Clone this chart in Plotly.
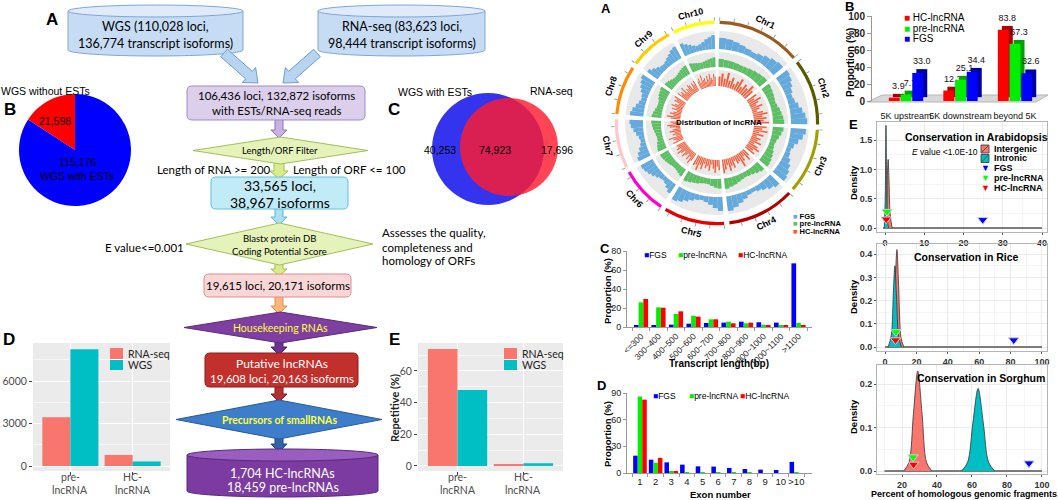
import math
import plotly.graph_objects as go

W, H = 1058, 500
ARIAL = 'Liberation Sans, Arial, sans-serif'
CAL = 'Lato, Carlito, Calibri, sans-serif'

# ------------------------------------------------------------------ data
pie_labels = ['WGS with ESTs', 'WGS without ESTs']
pie_values = [115176, 21598]

venn_sets = ['WGS with ESTs', 'RNA-seq']
venn_counts = ['40,253', '74,923', '17,696']

lnc_categories = ['pre-<br>lncRNA', 'HC-<br>lncRNA']
count_rnaseq = [3450, 780]
count_wgs = [8250, 320]
repet_rnaseq = [73.8, 0.6]
repet_wgs = [48.0, 1.7]

chr_names = ['Chr1', 'Chr2', 'Chr3', 'Chr4', 'Chr5', 'Chr6', 'Chr7', 'Chr8', 'Chr9', 'Chr10']
chr_lengths = [301, 237, 232, 242, 217, 169, 176, 175, 157, 150]
chr_colors = ['#9b5a1e', '#5a5a00', '#a0a000', '#b00000', '#e80000', '#ff00cc',
              '#ffc8c8', '#ff8c00', '#ffcc00', '#ffff00']
fgs_track = [
    [0.62, 0.58, 0.50, 0.42, 0.35, 0.30, 0.38, 0.50, 0.62, 0.70],
    [0.75, 0.68, 0.55, 0.42, 0.32, 0.38, 0.52, 0.68, 0.82, 0.90],
    [0.85, 0.72, 0.52, 0.35, 0.25, 0.30, 0.45, 0.60, 0.72, 0.80],
    [0.72, 0.58, 0.42, 0.30, 0.22, 0.25, 0.38, 0.52, 0.68, 0.82],
    [0.78, 0.62, 0.45, 0.32, 0.25, 0.30, 0.42, 0.55, 0.70, 0.80],
    [0.60, 0.45, 0.32, 0.25, 0.30, 0.40, 0.52, 0.62, 0.70, 0.75],
    [0.72, 0.60, 0.45, 0.32, 0.25, 0.30, 0.42, 0.55, 0.68, 0.75],
    [0.75, 0.65, 0.50, 0.38, 0.30, 0.35, 0.48, 0.60, 0.70, 0.80],
    [0.70, 0.55, 0.42, 0.32, 0.30, 0.35, 0.45, 0.55, 0.68, 0.75],
    [0.72, 0.60, 0.48, 0.38, 0.32, 0.36, 0.45, 0.58, 0.68, 0.78],
]
pre_track = [
    [0.55, 0.50, 0.48, 0.45, 0.42, 0.45, 0.50, 0.55, 0.60, 0.65],
    [0.60, 0.55, 0.50, 0.45, 0.40, 0.45, 0.55, 0.62, 0.70, 0.75],
    [0.72, 0.62, 0.50, 0.40, 0.35, 0.40, 0.50, 0.58, 0.65, 0.70],
    [0.65, 0.55, 0.45, 0.38, 0.35, 0.38, 0.45, 0.55, 0.62, 0.70],
    [0.65, 0.58, 0.48, 0.40, 0.38, 0.42, 0.50, 0.55, 0.62, 0.68],
    [0.55, 0.48, 0.42, 0.38, 0.40, 0.45, 0.50, 0.55, 0.60, 0.62],
    [0.62, 0.55, 0.48, 0.40, 0.38, 0.42, 0.48, 0.55, 0.60, 0.65],
    [0.65, 0.58, 0.50, 0.42, 0.40, 0.42, 0.50, 0.58, 0.62, 0.68],
    [0.60, 0.55, 0.48, 0.42, 0.40, 0.42, 0.48, 0.55, 0.60, 0.65],
    [0.62, 0.55, 0.50, 0.45, 0.42, 0.45, 0.50, 0.55, 0.60, 0.65],
]
hc_track = [
    [0.60, 0.80, 0.50, 0.90, 0.45, 0.70, 0.35, 0.60, 0.85, 0.40, 0.70, 0.55, 0.90, 0.65],
    [0.70, 0.45, 0.85, 0.60, 0.40, 0.75, 0.50, 0.30, 0.65, 0.90, 0.55, 0.80, 0.60, 0.95],
    [0.80, 0.55, 0.90, 0.40, 0.70, 0.30, 0.60, 0.45, 0.75, 0.35, 0.65, 0.85, 0.50, 0.70],
    [0.50, 0.75, 0.35, 0.60, 0.90, 0.45, 0.55, 0.30, 0.70, 0.50, 0.80, 0.40, 0.65, 0.85],
    [0.65, 0.40, 0.80, 0.55, 0.30, 0.70, 0.45, 0.60, 0.35, 0.75, 0.50, 0.90, 0.60, 0.70],
    [0.55, 0.80, 0.40, 0.65, 0.30, 0.50, 0.70, 0.35, 0.60, 0.80, 0.45, 0.70, 0.55, 0.60],
    [0.70, 0.45, 0.60, 0.85, 0.35, 0.55, 0.40, 0.70, 0.50, 0.30, 0.65, 0.80, 0.45, 0.60],
    [0.60, 0.85, 0.45, 0.70, 0.50, 0.30, 0.65, 0.40, 0.75, 0.55, 0.35, 0.70, 0.60, 0.80],
    [0.75, 0.50, 0.65, 0.40, 0.80, 0.35, 0.55, 0.45, 0.70, 0.60, 0.30, 0.65, 0.50, 0.70],
    [0.55, 0.70, 0.40, 0.85, 0.50, 0.60, 0.35, 0.70, 0.45, 0.80, 0.55, 0.40, 0.75, 0.60],
]

loc_categories = ['5K upstream', '5K downstream', 'beyond 5K']
loc_hc = [3.9, 12.3, 83.8]
loc_pre = [7.7, 25.1, 67.3]
loc_fgs = [33.0, 34.4, 32.6]

len_categories = ['<=300', '300~400', '400~500', '500~600', '600~700', '700~800',
                  '800~900', '900~1000', '1000~1100', '>1100']
len_fgs = [1.4, 1.9, 2.5, 3.5, 4.2, 4.6, 5.6, 5.0, 4.6, 67.0]
len_pre = [26.0, 20.7, 13.7, 11.9, 8.1, 5.6, 3.9, 2.3, 1.9, 4.2]
len_hc = [29.5, 20.3, 16.5, 10.9, 8.1, 3.9, 4.6, 1.3, 1.3, 1.8]

exon_categories = ['1', '2', '3', '4', '5', '6', '7', '8', '9', '10', '>10']
exon_fgs = [19.5, 15.0, 12.0, 9.4, 7.5, 7.2, 5.7, 4.5, 3.8, 3.4, 12.5]
exon_pre = [86.0, 11.5, 2.0, 0.3, 0.2, 0.1, 0.1, 0.1, 0.0, 0.0, 0.2]
exon_hc = [82.5, 17.0, 1.5, 0.0, 0.0, 0.0, 0.0, 0.0, 0.0, 0.0, 0.0]

dens_groups = ['Intergenic', 'Intronic']
arab_span = [-0.5, 40]
arab_inter_x = [0.1, 0.4, 0.6, 0.8, 1.0, 1.3, 1.8]
arab_inter_y = [0, 0.3, 0.9, 1.17, 0.85, 0.25, 0]
arab_intron_x = [-0.2, 0.05, 0.25, 0.45, 0.7, 1.0]
arab_intron_y = [0, 0.5, 1.75, 0.6, 0.08, 0]
arab_tri_x = [24.9, 0.5, 0.3]
arab_tri_y = [0.14, 0.28, 0.15]

rice_span = [0, 100]
rice_inter_x = [3.0, 5.0, 6.5, 7.6, 8.7, 10.2, 12.0]
rice_inter_y = [0, 0.05, 0.28, 0.42, 0.26, 0.04, 0]
rice_intron_x = [2.0, 4.0, 5.4, 6.3, 7.3, 8.8, 10.5]
rice_intron_y = [0, 0.05, 0.25, 0.35, 0.22, 0.04, 0]
rice_tri_x = [82, 7.0, 6.7]
rice_tri_y = [0.03, 0.065, 0.03]

sorg_span = [10, 100]
sorg_inter_x = [21, 24, 26.5, 29, 31.5, 34, 37]
sorg_inter_y = [0, 0.02, 0.13, 0.23, 0.13, 0.02, 0]
sorg_intron_x = [54, 57.5, 60.5, 63.5, 66.5, 69.5, 73]
sorg_intron_y = [0, 0.02, 0.11, 0.19, 0.11, 0.02, 0]
sorg_tri_x = [92.6, 26.3, 26.6]
sorg_tri_y = [0.018, 0.032, 0.015]

tri_names = ['FGS', 'pre-lncRNA', 'HC-lncRNA']
tri_colors = ['#0000ff', '#00ff00', '#ff0000']


# ------------------------------------------------------------------ helpers
def fx(p):
    return p / W


def fy(p):
    return 1 - p / H


def pt(x, y):
    return f'{fx(x):.5f},{fy(y):.5f}'


shapes = []
annotations = []


def ann(text, x, y, size=11, color='#000', family=ARIAL, bold=False,
        xanchor='center', angle=0, yanchor='middle', xref='paper'):
    annotations.append(dict(text=f'<b>{text}</b>' if bold else text,
                            x=fx(x) if xref == 'paper' else x, y=fy(y),
                            xref=xref, yref='paper', showarrow=False,
                            font=dict(size=size, color=color, family=family),
                            xanchor=xanchor, yanchor=yanchor, textangle=angle))


def add_path(d, fill, line, lw=1, layer='above'):
    shapes.append(dict(type='path', path=d, xref='paper', yref='paper', fillcolor=fill,
                       line=dict(color=line, width=lw), layer=layer))


def poly(points, fill, line, lw=1, layer='above'):
    add_path('M ' + ' L '.join(pt(x, y) for x, y in points) + ' Z', fill, line, lw, layer)


def rrect(x0, y0, x1, y1, r, fill, line, lw=1):
    d = (f'M {pt(x0 + r, y0)} L {pt(x1 - r, y0)} Q {pt(x1, y0)} {pt(x1, y0 + r)} '
         f'L {pt(x1, y1 - r)} Q {pt(x1, y1)} {pt(x1 - r, y1)} L {pt(x0 + r, y1)} '
         f'Q {pt(x0, y1)} {pt(x0, y1 - r)} L {pt(x0, y0 + r)} Q {pt(x0, y0)} {pt(x0 + r, y0)} Z')
    add_path(d, fill, line, lw)


def ellipse(x0, y0, x1, y1, fill, line, lw=1):
    shapes.append(dict(type='circle', xref='paper', yref='paper', x0=fx(x0), x1=fx(x1),
                       y0=fy(y1), y1=fy(y0), fillcolor=fill,
                       line=dict(color=line, width=lw)))


def cylinder(x0, x1, yt, yb, ry, fill, top, line):
    cx = (x0 + x1) / 2
    rx = (x1 - x0) / 2
    k = 0.5523
    d = (f'M {pt(x0, yt)} L {pt(x0, yb)} C {pt(x0, yb + k * ry)} {pt(cx - k * rx, yb + ry)} '
         f'{pt(cx, yb + ry)} C {pt(cx + k * rx, yb + ry)} {pt(x1, yb + k * ry)} {pt(x1, yb)} '
         f'L {pt(x1, yt)} Z')
    add_path(d, fill, line)
    ellipse(x0, yt - ry, x1, yt + ry, top, line)


def arrow(x1, y1, x2, y2, sw, hw, hl, fill, line):
    L = math.hypot(x2 - x1, y2 - y1)
    dx, dy = (x2 - x1) / L, (y2 - y1) / L
    nx, ny = -dy, dx
    bx, by = x2 - dx * hl, y2 - dy * hl
    pts = [(x1 + nx * sw, y1 + ny * sw), (bx + nx * sw, by + ny * sw), (bx + nx * hw, by + ny * hw),
           (x2, y2), (bx - nx * hw, by - ny * hw), (bx - nx * sw, by - ny * sw),
           (x1 - nx * sw, y1 - ny * sw)]
    poly(pts, fill, line)


def diamond(x0, x1, y0, y1, fill, line):
    cx, cy = (x0 + x1) / 2, (y0 + y1) / 2
    poly([(x0, cy), (cx, y0), (x1, cy), (cx, y1)], fill, line)


fig = go.Figure()
NOHOVER = dict(hoverinfo='skip', showlegend=False)

# ------------------------------------------------------------------ left: flowchart (A)
CX = 279
ann('A', 52, 19, size=17, bold=True)
cylinder(68, 243, 11, 50, 6, '#c6dcf4', '#dfeafa', '#7fa6d4')
cylinder(318, 485, 11, 50, 6, '#c6dcf4', '#dfeafa', '#7fa6d4')
ann('WGS (110,028 loci,', 155.5, 26, size=12.5, family=CAL)
ann('136,774 transcript isoforms)', 155.5, 44, size=12.5, family=CAL)
ann('RNA-seq (83,623 loci,', 401.5, 26, size=12.5, family=CAL)
ann('98,444 transcript isoforms)', 401.5, 44, size=12.5, family=CAL)
arrow(224, 53, 258, 83, 5, 10, 12, '#b7d4f0', '#6e9ccf')
arrow(317, 53, 283, 83, 5, 10, 12, '#b7d4f0', '#6e9ccf')

arrow(CX, 119, CX, 138, 4, 8, 8, '#c7b2e2', '#8f70bd')
arrow(CX, 162, CX, 179, 5, 9, 8, '#d9ec8a', '#a3bf57')
arrow(CX, 208, CX, 225, 4, 8, 8, '#a9dff0', '#5ab8d8')
arrow(CX, 262, CX, 276, 4, 8, 7, '#d9ec8a', '#a3bf57')
arrow(CX, 296, CX, 314, 4, 8, 8, '#f9b77e', '#e58d40')
arrow(CX, 338, CX, 355, 4, 8, 8, '#6b3290', '#4e2270')
arrow(CX, 385, CX, 402, 4, 8, 8, '#b33030', '#7e1c1c')
arrow(CX, 436, CX, 452, 4, 8, 8, '#2f63aa', '#1f4680')

rrect(187, 86, 365, 120, 5, '#dccfeb', '#9f8cc6')
ann('106,436 loci, 132,872 isoforms', 276, 96, size=11.5, family=CAL)
ann('with ESTs/RNA-seq reads', 276, 111, size=11.5, family=CAL)

diamond(193, 368, 137, 164, '#e5f2ba', '#a3bf57')
ann('Length/ORF Filter', 280, 150.5, size=9.5, family=CAL)
ann('Length of RNA >= 200', 273, 169, size=11.5, family=CAL, xanchor='right')
ann('Length of ORF <= 100', 291, 169, size=11.5, family=CAL, xanchor='left')

rrect(211, 177, 348, 209, 5, '#c2ebf8', '#5ec2de')
ann('33,565 loci,', 279.5, 185.5, size=14, family=CAL)
ann('38,967 isoforms', 279.5, 202, size=14, family=CAL)

diamond(186, 373, 223, 265, '#e5f2ba', '#a3bf57')
ann('Blastx protein DB', 279.5, 238, size=9.5, family=CAL)
ann('Coding Potential Score', 279.5, 251, size=9.5, family=CAL)
ann('E value<=0.001', 186, 247, size=11.5, family=CAL, xanchor='right')
ann('Assesses the quality,', 380, 233, size=11.5, family=CAL, xanchor='left')
ann('completeness and', 380, 247, size=11.5, family=CAL, xanchor='left')
ann('homology of ORFs', 380, 260.5, size=11.5, family=CAL, xanchor='left')

rrect(204, 274, 351, 297, 5, '#fad7d7', '#df8c8c')
ann('19,615 loci, 20,171 isoforms', 277.5, 285.5, size=11.5, family=CAL)

diamond(184, 377, 312, 343, '#7e3fa0', '#5a2a7a')
ann('Housekeeping RNAs', 280.5, 327.5, size=10.5, family=CAL, color='#ffff3a')

rrect(205, 353, 358, 387, 5, '#c2302c', '#8c1c1c')
ann('Putative lncRNAs', 281.5, 363.5, size=12, family=CAL, color='white')
ann('19,608 loci, 20,163 isoforms', 281.5, 378, size=11.5, family=CAL, color='white')

diamond(176, 382, 400, 439, '#3e7dca', '#2a5a9a')
ann('Precursors of smallRNAs', 279, 420, size=10.5, family=CAL, color='#ffff3a', bold=True)

cylinder(187, 378, 455, 491, 6, '#7b3ba0', '#9a5ec0', '#5a2a7a')
ann('1,704 HC-lncRNAs', 282.5, 473, size=12.5, family=CAL, color='white')
ann('18,459 pre-lncRNAs', 282.5, 487, size=12.5, family=CAL, color='white')

# ------------------------------------------------------------------ left: pie (B)
fig.add_trace(go.Pie(labels=pie_labels, values=pie_values, sort=False, direction='clockwise', rotation=0,
                     marker=dict(colors=['#0000ff', '#ff0000'], line=dict(width=0)),
                     textinfo='none', domain=dict(x=[fx(19), fx(131)], y=[fy(206), fy(94)]),
                     hoverinfo='skip', showlegend=False))
ann('WGS without ESTs', 45, 91, size=10.5)
ann('B', 10, 110, size=17, bold=True)
ann(f'{pie_values[1]:,}', 55, 121, size=10.5)
ann(f'{pie_values[0]:,}', 77, 162, size=10.5)
ann('WGS with ESTs', 77, 176, size=10.5)

# ------------------------------------------------------------------ left: venn (C)
ellipse(432, 93, 544, 205, '#3434ee', 'rgba(0,0,0,0)', 0)
ellipse(460, 98, 558, 196, 'rgba(255,28,48,0.82)', 'rgba(0,0,0,0)', 0)
ann('C', 394, 110, size=17, bold=True)
ann(venn_sets[0], 435, 92, size=10.5)
ann(venn_sets[1], 551, 91, size=10.5)
ann(venn_counts[0], 440, 150, size=10.5)
ann(venn_counts[1], 495, 150, size=10.5)
ann(venn_counts[2], 557, 150, size=10.5)

# ------------------------------------------------------------------ left: ggplot bars (D, E)
GG_RED, GG_TEAL = '#f8766d', '#00bfc4'
for ax, vals_a, vals_b in (('', count_rnaseq, count_wgs), ('2', repet_rnaseq, repet_wgs)):
    xs = [i + 1 for i in range(len(lnc_categories))]
    fig.add_trace(go.Bar(x=[v - 0.225 for v in xs], y=vals_a, width=0.45, marker_color=GG_RED,
                         marker_line_width=0, xaxis='x' + ax, yaxis='y' + ax, **NOHOVER))
    fig.add_trace(go.Bar(x=[v + 0.225 for v in xs], y=vals_b, width=0.45, marker_color=GG_TEAL,
                         marker_line_width=0, xaxis='x' + ax, yaxis='y' + ax, **NOHOVER))
    shapes.append(dict(type='rect', xref=f'x{ax} domain', yref=f'y{ax} domain', x0=0, x1=1, y0=0, y1=1,
                       fillcolor='#ebebeb', line=dict(width=0), layer='below'))
    for i, lab in enumerate(lnc_categories):
        top, bot = lab.split('<br>')
        ann(top, i + 1, 477, size=10.5, family=CAL, color='#4d4d4d', xref='x' + ax)
        ann(bot, i + 1, 489.5, size=10.5, family=CAL, color='#4d4d4d', xref='x' + ax)

ann('D', 9, 339, size=17, bold=True)
ann('E', 394, 339, size=17, bold=True)
ann('Repetitive (%)', 394, 408, size=11, family=CAL, color='#222', bold=True, angle=-90)
for lx in (110, 504):
    shapes.append(dict(type='rect', xref='paper', yref='paper', x0=fx(lx), x1=fx(lx + 13),
                       y0=fy(359), y1=fy(348), fillcolor=GG_RED, line=dict(width=0)))
    shapes.append(dict(type='rect', xref='paper', yref='paper', x0=fx(lx), x1=fx(lx + 13),
                       y0=fy(370), y1=fy(360), fillcolor=GG_TEAL, line=dict(width=0)))
    ann('RNA-seq', lx + 16, 353.5, size=10.5, family=CAL, xanchor='left', color='#222')
    ann('WGS', lx + 16, 365, size=10.5, family=CAL, xanchor='left', color='#222')

# ------------------------------------------------------------------ right: circos (A)
CCX, CCY, CR = 717, 123, 108
gap = 3.0
start = 1.5
deg_per = (360 - gap * len(chr_lengths)) / sum(chr_lengths)
chr_a0, chr_span = [], []
a = start
for L in chr_lengths:
    chr_a0.append(a)
    chr_span.append(L * deg_per)
    a += L * deg_per + gap
chr_mid = [a0 + s / 2 for a0, s in zip(chr_a0, chr_span)]

bands = [(37, 16, hc_track, '#f4603c', 0.72), (56, 15, pre_track, '#5cbf63', 1.0),
         (74, 18, fgs_track, '#65aadc', 1.0)]
for base, span, _, _, _ in bands:
    fig.add_trace(go.Barpolar(theta=chr_mid, r=[span] * len(chr_mid), base=[base] * len(chr_mid),
                              width=chr_span, marker=dict(color='#e9e9e9', line=dict(width=0)),
                              subplot='polar', **NOHOVER))
for base, span, track, color, frac in bands:
    th, rr, ww = [], [], []
    for a0, s, vals in zip(chr_a0, chr_span, track):
        slot = s / len(vals)
        for k, v in enumerate(vals):
            th.append(a0 + (k + 0.5) * slot)
            rr.append(v * span)
            ww.append(slot * frac)
    fig.add_trace(go.Barpolar(theta=th, r=rr, base=[base] * len(th), width=ww,
                              marker=dict(color=color, line=dict(width=0)), subplot='polar', **NOHOVER))
fig.add_trace(go.Barpolar(theta=chr_mid, r=[3.2] * len(chr_mid), base=[99] * len(chr_mid), width=chr_span,
                          marker=dict(color=chr_colors, line=dict(width=0)), subplot='polar', **NOHOVER))
tick_th = []
for a0, L in zip(chr_a0, chr_lengths):
    for mb in range(0, L + 1, 50):
        tick_th.append(a0 + mb * deg_per)
fig.add_trace(go.Barpolar(theta=tick_th, r=[3.5] * len(tick_th), base=[102.3] * len(tick_th),
                          width=[0.5] * len(tick_th), marker=dict(color='#9a9a9a', line=dict(width=0)),
                          subplot='polar', **NOHOVER))
for name, m in zip(chr_names, chr_mid):
    rad = math.radians(m)
    lx = CCX + 112 * math.sin(rad)
    ly = CCY - 112 * math.cos(rad)
    ang = m - 180 if 90 < m < 270 else (m - 360 if m >= 270 else m)
    ann(name, lx, ly, size=9, bold=True, angle=ang)
ann('Distribution of lncRNA', 719, 122, size=8, bold=True)
ann('A', 606, 8, size=13, bold=True)
for i, (nm, col) in enumerate(zip(['FGS', 'pre-lncRNA', 'HC-lncRNA'], ['#65aadc', '#5cbf63', '#f4603c'])):
    ann(f'<span style="color:{col}">■</span> {nm}', 791, 216.5 + i * 7.5, size=7.5, bold=True,
        xanchor='left')

# ------------------------------------------------------------------ right: 3D bars (B)
loc_series = [(loc_hc, '#ff0000', '#a80000', -0.215), (loc_pre, '#00ee00', '#00a000', 0.0),
              (loc_fgs, '#0000ff', '#0000a0', 0.215)]
xs = list(range(len(loc_categories)))
floor = [(868, 102), (1036, 102), (1048, 95), (882, 95)]
poly(floor, '#d8d8d8', '#b5b5b5', 1, layer='below')
for vals, col, dark, off in loc_series:
    fig.add_trace(go.Bar(x=[i + off + 0.075 for i in xs], y=vals, base=[4.5] * len(vals), width=0.2,
                         marker=dict(color=dark, line=dict(width=0)), xaxis='x3', yaxis='y3',
                         text=[f'{v:.1f}' for v in vals], textposition='outside', constraintext='none',
                         textfont=dict(family=ARIAL, size=9, color='#111'), cliponaxis=False, **NOHOVER))
for vals, col, dark, off in loc_series:
    fig.add_trace(go.Bar(x=[i + off for i in xs], y=vals, width=0.2,
                         marker=dict(color=col, line=dict(width=0)), xaxis='x3', yaxis='y3', **NOHOVER))
ann('B', 849, 6, size=13, bold=True)
ann('Proportion (%)', 850, 63, size=10, bold=True, angle=-90)
for i, (nm, col) in enumerate(zip(['HC-lncRNA', 'pre-lncRNA', 'FGS'], ['#ff0000', '#00ee00', '#0000ff'])):
    ann(f'<span style="color:{col}">■</span> {nm}', 902, 17 + i * 11, size=10, xanchor='left')

# ------------------------------------------------------------------ right: transcript length (C)
for vals, col, off in ((len_fgs, '#0000ff', -0.27), (len_pre, '#00ee00', 0.0), (len_hc, '#ff0000', 0.27)):
    fig.add_trace(go.Bar(x=[i + off for i in range(len(len_categories))], y=vals, width=0.27,
                         marker=dict(color=col, line=dict(width=0)), xaxis='x4', yaxis='y4', **NOHOVER))
ann('C', 605, 248, size=13, bold=True)
ann('Proportion (%)', 607, 291, size=9.5, bold=True, angle=-90)
ann('Transcript length(bp)', 719, 363, size=10, bold=True)
for x0, nm, col in ((642, 'FGS', '#0000ff'), (676, 'pre-lncRNA', '#00ee00'), (736, 'HC-lncRNA', '#ff0000')):
    ann(f'<span style="color:{col}">■</span>{nm}', x0, 255, size=8.5, xanchor='left')

# ------------------------------------------------------------------ right: exon number (D)
for vals, col, off in ((exon_fgs, '#0000ff', -0.29), (exon_pre, '#00ee00', 0.0), (exon_hc, '#ff0000', 0.29)):
    fig.add_trace(go.Bar(x=[i + off for i in range(len(exon_categories))], y=vals, width=0.29,
                         marker=dict(color=col, line=dict(width=0)), xaxis='x5', yaxis='y5', **NOHOVER))
ann('D', 601, 385, size=13, bold=True)
ann('Proportion (%)', 607, 434, size=9.5, bold=True, angle=-90)
ann('Exon number', 720, 494, size=9.5, bold=True)
for x0, nm, col in ((651, 'FGS', '#0000ff'), (687, 'pre-lncRNA', '#00ee00'), (738, 'HC-lncRNA', '#ff0000')):
    ann(f'<span style="color:{col}">■</span>{nm}', x0, 396, size=8.5, xanchor='left')

# ------------------------------------------------------------------ right: density panels (E)
panels = [
    ('6', arab_span, arab_inter_x, arab_inter_y, arab_intron_x, arab_intron_y, arab_tri_x, arab_tri_y),
    ('7', rice_span, rice_inter_x, rice_inter_y, rice_intron_x, rice_intron_y, rice_tri_x, rice_tri_y),
    ('8', sorg_span, sorg_inter_x, sorg_inter_y, sorg_intron_x, sorg_intron_y, sorg_tri_x, sorg_tri_y),
]
for ax, span, ix, iy, nx_, ny_, tx, ty in panels:
    fig.add_trace(go.Scatter(x=span, y=[0, 0], mode='lines', line=dict(color='#555', width=1.4),
                             xaxis='x' + ax, yaxis='y' + ax, **NOHOVER))
    for px_, py_, col in ((ix, iy, '#f8766d'), (nx_, ny_, '#00bfc4')):
        fig.add_trace(go.Scatter(x=px_, y=py_, mode='lines', fill='toself', fillcolor=col,
                                 line=dict(color='#333', width=0.8, shape='spline', smoothing=0.9),
                                 xaxis='x' + ax, yaxis='y' + ax, **NOHOVER))
    fig.add_trace(go.Scatter(x=tx, y=ty, mode='markers',
                             marker=dict(symbol='triangle-down', size=9, color=tri_colors,
                                         line=dict(color='#d0d0d0', width=1)),
                             xaxis='x' + ax, yaxis='y' + ax, cliponaxis=False, **NOHOVER))
ann('E', 853, 124, size=13, bold=True)
ann('Conservation in Arabidopsis', 976, 137, size=10.5, bold=True)
ann('<i>E</i> value <1.0E-10', 910, 152, size=8.5, xanchor='left')
ann('Conservation in Rice', 966, 257, size=10.5, bold=True)
ann('Conservation in Sorghum', 981, 378, size=10.5, bold=True)
for yy in (183, 297, 417):
    ann('Density', 853, yy, size=9.5, bold=True, angle=-90)
ann('Percent of homologous genomic fragments', 964, 494, size=9, bold=True)
for yy, col in ((149, '#f8766d'), (158.5, '#00bfc4')):
    shapes.append(dict(type='rect', xref='paper', yref='paper', x0=fx(981), x1=fx(989),
                       y0=fy(yy + 4), y1=fy(yy - 4), fillcolor=col, line=dict(color='#333', width=0.8)))
    shapes.append(dict(type='line', xref='paper', yref='paper', x0=fx(982), x1=fx(988),
                       y0=fy(yy + 3), y1=fy(yy - 3), line=dict(color='#333', width=0.8)))
ann('Intergenic', 992, 149, size=9, bold=True, xanchor='left')
ann('Intronic', 992, 158.5, size=9, bold=True, xanchor='left')
for i, (nm, col) in enumerate(zip(tri_names, tri_colors)):
    ann(f'<span style="color:{col}">▼</span>', 985, 168 + i * 10, size=9)
    ann(nm, 992, 168 + i * 10, size=9, bold=True, xanchor='left')

# ------------------------------------------------------------------ axes
GGTICK = dict(family=CAL, size=10.5, color='#4d4d4d')
gg_x = dict(range=[0.4, 2.6], tickvals=[1, 2], showticklabels=False, showgrid=True, gridcolor='white',
            gridwidth=1, zeroline=False, ticks='outside', ticklen=3, tickcolor='#444',
            showline=False, automargin=False)
gg_y = dict(showgrid=True, gridcolor='white', gridwidth=1, zeroline=False, ticks='outside', ticklen=3,
            tickcolor='#444', tickfont=GGTICK, showline=False, automargin=False)

RT = dict(family=ARIAL, size=9, color='#222')
RTB = dict(family=ARIAL, size=9, color='#333', weight='bold')
dens_x = dict(showgrid=True, gridcolor='#ebebeb', zeroline=False, showline=True, mirror=True,
              linecolor='#b5b5b5', ticks='outside', ticklen=2, tickcolor='#555', tickfont=RTB,
              automargin=False)
dens_y = dict(dens_x, tickformat='.1f')

fig.update_layout(
    width=W, height=H, margin=dict(l=0, r=0, t=0, b=0, autoexpand=False), paper_bgcolor='white',
    plot_bgcolor='white', barmode='overlay', showlegend=False,
    xaxis=dict(gg_x, domain=[fx(33), fx(170)], anchor='y'),
    yaxis=dict(gg_y, domain=[fy(471), fy(343)], range=[-353, 8683], tickvals=[0, 3000, 6000],
               minor=dict(tickvals=[1500, 4500, 7500], showgrid=True, gridcolor='#f6f6f6', gridwidth=0.6),
               anchor='x'),
    xaxis2=dict(gg_x, domain=[fx(418), fx(563)], anchor='y2'),
    yaxis2=dict(gg_y, domain=[fy(471), fy(343)], range=[-3.2, 77.6], tickvals=[0, 20, 40, 60],
                minor=dict(tickvals=[10, 30, 50, 70], showgrid=True, gridcolor='#f6f6f6', gridwidth=0.6),
                anchor='x2'),
    xaxis3=dict(domain=[fx(872), fx(1048)], range=[-0.624, 2.606], tickvals=list(range(3)),
                ticktext=loc_categories, tickangle=0, showgrid=False, zeroline=False, showline=False,
                ticks='', tickfont=dict(family=ARIAL, size=9, color='#111'), ticklabelstandoff=8,
                automargin=False, anchor='y3'),
    yaxis3=dict(domain=[fy(101), fy(16)], range=[0, 100], dtick=20, showgrid=False, zeroline=False,
                showline=True, linecolor='#999', ticks='outside', ticklen=4, tickcolor='#999',
                tickfont=dict(family=ARIAL, size=10, color='#222', weight='bold'), automargin=False,
                anchor='x3'),
    xaxis4=dict(domain=[fx(627), fx(812)], range=[-0.8, 9.77], tickvals=list(range(10)),
                ticktext=len_categories, tickangle=-45, showgrid=False, zeroline=False, showline=True,
                linecolor='#999', ticks='', tickfont=dict(family=ARIAL, size=8.5, color='#222'),
                minor=dict(tickvals=[i - 0.5 for i in range(11)], ticks='outside', ticklen=3,
                           tickcolor='#999'), automargin=False, anchor='y4'),
    yaxis4=dict(domain=[fy(327), fy(251)], range=[0, 80], dtick=20, showgrid=False, zeroline=False,
                showline=True, linecolor='#999', ticks='outside', ticklen=3, tickcolor='#999', tickfont=RT,
                automargin=False, anchor='x4'),
    xaxis5=dict(domain=[fx(627), fx(812)], range=[-0.83, 11.0], tickvals=list(range(11)),
                ticktext=exon_categories, tickangle=0, showgrid=False, zeroline=False, showline=True,
                linecolor='#999', ticks='', tickfont=dict(family=ARIAL, size=9.5, color='#222'),
                minor=dict(tickvals=[i - 0.5 for i in range(12)], ticks='outside', ticklen=3,
                           tickcolor='#999'), automargin=False, anchor='y5'),
    yaxis5=dict(domain=[fy(473), fy(393)], range=[0, 90], dtick=30, showgrid=False, zeroline=False,
                showline=True, linecolor='#999', ticks='outside', ticklen=3, tickcolor='#999', tickfont=RT,
                automargin=False, anchor='x5'),
    xaxis6=dict(dens_x, domain=[fx(877), fx(1047)], range=[-2.04, 41.27], dtick=10, tickangle=0,
                minor=dict(dtick=5, showgrid=True, gridcolor='#f5f5f5'), anchor='y6'),
    yaxis6=dict(dens_y, domain=[fy(232), fy(122)], range=[-0.068, 1.809], tickvals=[0, 0.5, 1.0, 1.5],
                minor=dict(dtick=0.25, showgrid=True, gridcolor='#f5f5f5'), anchor='x6'),
    xaxis7=dict(dens_x, domain=[fx(877), fx(1047)], range=[-5.1, 103.2], dtick=20, tickangle=0,
                minor=dict(dtick=10, showgrid=True, gridcolor='#f5f5f5'), anchor='y7'),
    yaxis7=dict(dens_y, domain=[fy(351), fy(244)], range=[-0.0171, 0.444], dtick=0.1,
                minor=dict(dtick=0.05, showgrid=True, gridcolor='#f5f5f5'), anchor='x7'),
    xaxis8=dict(dens_x, domain=[fx(877), fx(1047)], range=[5.7, 102.9], tickvals=[20, 40, 60, 80, 100],
                tickangle=0, minor=dict(tickvals=[10, 30, 50, 70, 90], showgrid=True, gridcolor='#f5f5f5'),
                anchor='y8'),
    yaxis8=dict(dens_y, domain=[fy(474), fy(365)], range=[-0.0069, 0.2437], tickvals=[0, 0.1, 0.2],
                minor=dict(tickvals=[0.05, 0.15], showgrid=True, gridcolor='#f5f5f5'), anchor='x8'),
    polar=dict(domain=dict(x=[fx(CCX - CR), fx(CCX + CR)], y=[fy(CCY + CR), fy(CCY - CR)]),
               bgcolor='rgba(0,0,0,0)', hole=0,
               radialaxis=dict(range=[0, CR], visible=False, showgrid=False),
               angularaxis=dict(rotation=90, direction='clockwise', visible=False, showgrid=False)),
    shapes=shapes, annotations=annotations,
)

fig.write_html('out.html', config={'displayModeBar': False},
               post_script="document.body.style.margin='0';document.body.style.overflow='hidden';")
